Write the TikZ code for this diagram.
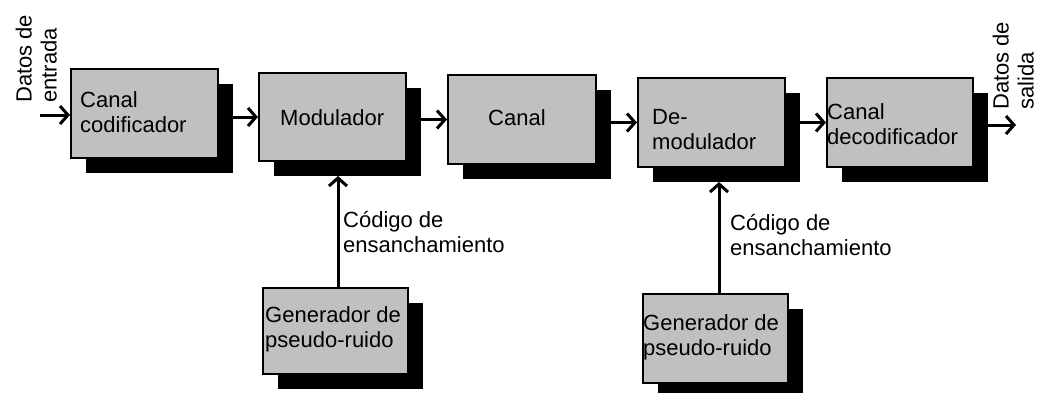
\documentclass[tikz,border=0pt]{standalone}
\usepackage{fontspec}
\setmainfont{Liberation Sans}
\usetikzlibrary{arrows.meta,shadows,calc}
\definecolor{boxgray}{RGB}{192,192,192}
\begin{document}
\begin{tikzpicture}[x=1pt,y=-1pt,
  blk/.style={draw=black, line width=2pt, fill=boxgray, inner sep=0pt, anchor=north west,
    drop shadow={shadow xshift=15pt, shadow yshift=-15pt, fill=black, opacity=1}},
  txt/.style={font=\fontsize{22}{25}\selectfont, align=left, inner sep=0pt, anchor=west},
  vtxt/.style={font=\fontsize{22}{25}\selectfont, align=left, inner sep=0pt, rotate=90, anchor=south west},
  arr/.style={line width=3pt, -{Straight Barb[length=8pt,width=18pt]}},
]
\useasboundingbox[fill=white] (0,0) rectangle (1040,392);
% blocks
\node[blk, minimum width=147pt, minimum height=89pt] (b1) at (70,68) {};
\node[blk, minimum width=147pt, minimum height=88pt] (b2) at (258,72) {};
\node[blk, minimum width=148pt, minimum height=89pt] (b3) at (447,74) {};
\node[blk, minimum width=147pt, minimum height=89pt] (b4) at (637,77) {};
\node[blk, minimum width=146pt, minimum height=89pt] (b5) at (826,77) {};
\node[blk, minimum width=145pt, minimum height=86pt] (g1) at (262,287) {};
\node[blk, minimum width=145pt, minimum height=89pt] (g2) at (642,293) {};
% texts
\node[txt] (t1) at (80,112.5) {Canal\\codificador};
\node[txt] (t2) at (280,118) {Modulador};
\node[txt] (t3) at (488,118) {Canal};
\node[txt] (t4) at (652,130) {De-\\modulador};
\node[txt] (t5) at (827,124.5) {Canal\\decodificador};
\node[txt] (tg1) at (265,329.5) {Generador de\\pseudo-ruido};
\node[txt] (tg2) at (643,337.5) {Generador de\\pseudo-ruido};
\node[txt] (c1) at (343,232) {Código de\\ensanchamiento};
\node[txt] (c2) at (730,234.5) {Código de\\ensanchamiento};
\node[vtxt] (din) at (57,103) {Datos de\\entrada};
\node[vtxt] (dout) at (1034,110) {Datos de\\salida};
% connectors
\coordinate (in) at (40,115);
\coordinate (out) at (1016,125);
\draw[arr] (in) -- (b1.west |- in);
\draw[arr] ($(b1.east |- b2.west)+(14,0)$) -- (b2.west);
\draw[arr] ($(b2.east |- b3.west)+(14,0)$) -- (b3.west);
\draw[arr] ($(b3.east |- b4.west)+(14,0)$) -- (b4.west);
\draw[arr] ($(b4.east |- b5.west)+(14,0)$) -- (b5.west);
\draw[arr] ($(b5.east |- out)+(14,0)$) -- (out);
\draw[arr] ($(g1.north)+(2.5,0)$) -- ($(b2.south -| g1.north)+(2.5,14)$);
\draw[arr] ($(g2.north)+(3.5,0)$) -- ($(b4.south -| g2.north)+(3.5,14)$);
\end{tikzpicture}
\end{document}
